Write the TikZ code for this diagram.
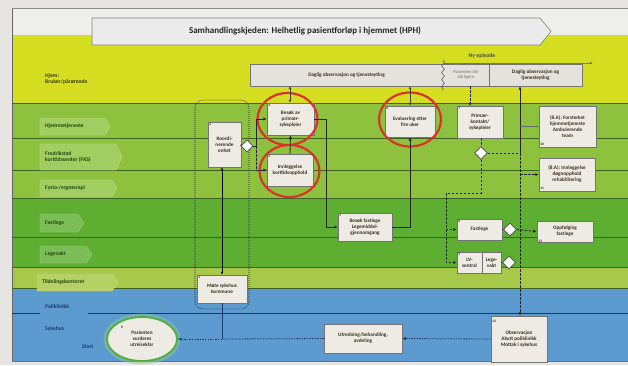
\documentclass[tikz,border=0pt]{standalone}
\usepackage{fontspec}
\setmainfont{Carlito}
\usetikzlibrary{arrows.meta,shapes.geometric,shadows,decorations.pathmorphing}
\definecolor{bgout}{HTML}{E6E5E1}
\definecolor{paneltop}{HTML}{EEEEEB}
\definecolor{lyellow}{HTML}{D6DE22}
\definecolor{lgreen}{HTML}{8EC23E}
\definecolor{dgreen}{HTML}{5EAE32}
\definecolor{tgreen}{HTML}{A8C84A}
\definecolor{lblue}{HTML}{5C9AD0}
\definecolor{boxfill}{HTML}{EEEBE5}
\definecolor{barfill}{HTML}{E4E2DC}
\definecolor{ringred}{HTML}{D8352A}
\definecolor{txtdark}{HTML}{3A2C1C}
\definecolor{laneline}{HTML}{3A6420}
\definecolor{navy}{HTML}{1D3766}
\definecolor{tagtext}{HTML}{22480E}
\definecolor{glowgreen}{HTML}{4FAE3C}
\begin{document}
\begin{tikzpicture}[x=1pt,y=-1pt,
  box/.style={draw=black!55, line width=0.5pt, fill=boxfill, align=center,
    font=\fontsize{5.2}{6}\selectfont\bfseries, text=txtdark, inner sep=1pt,
    drop shadow={shadow xshift=0.8pt,shadow yshift=-0.8pt,opacity=0.3}},
  num/.style={font=\fontsize{3.6}{4}\selectfont\bfseries, text=txtdark, inner sep=1.3pt},
  dia/.style={diamond, draw=black!70, fill=white, line width=0.6pt, minimum width=12pt, minimum height=12pt, inner sep=0pt},
  flow/.style={draw=black!85, line width=0.8pt, -{Latex[length=3.5pt,width=3.2pt]}},
  conn/.style={draw=black!85, line width=0.8pt},
  biflow/.style={draw=black!75, line width=0.6pt, {Latex[length=3pt,width=2.8pt]}-{Latex[length=3pt,width=2.8pt]}},
  dflow/.style={draw=black!85, line width=0.9pt, dash pattern=on 2.5pt off 1.5pt, -{Latex[length=3.5pt,width=3.2pt]}},
  dconn/.style={draw=black!85, line width=0.9pt, dash pattern=on 2.5pt off 1.5pt},
  thinflow/.style={draw=black!60, line width=0.4pt, -{Latex[length=2.5pt,width=2.2pt]}},
  navyline/.style={draw=navy, line width=0.8pt},
  navydot/.style={draw=navy, line width=0.8pt, dash pattern=on 1.4pt off 1.2pt},
  navydotflow/.style={navydot, -{Latex[length=3.5pt,width=3.2pt]}},
  tagshape/.style={line width=0.4pt},
  lanetxt/.style={font=\fontsize{5.6}{6.6}\selectfont\bfseries, text=tagtext, anchor=west, align=left, inner sep=0pt},
  ring/.style={draw=ringred, line width=2.2pt},
  bartxt/.style={font=\fontsize{5.2}{6}\selectfont\bfseries, text=txtdark, align=center, inner sep=0pt}
]
\useasboundingbox (0,0) rectangle (628,365);
% background and panel
\fill[bgout] (0,0) rectangle (628,365);
\fill[paneltop] (12,8) rectangle (628,35);
\fill[lyellow] (12,35) rectangle (628,103);
\fill[lgreen] (12,103) rectangle (628,198);
\fill[dgreen] (12,198) rectangle (628,267);
\fill[tgreen] (12,267) rectangle (628,288);
\fill[lblue] (12,288) rectangle (628,361);
\draw[black!60, line width=0.5pt] (12,8) -- (12,361);
\draw[black!45, line width=0.4pt] (12,8) -- (628,8);
% lane dividers
\foreach \yy in {103,138,170,198,237,267,288}{
  \draw[laneline, line width=0.5pt] (12,\yy) -- (628,\yy);
}
\draw[navy, line width=0.8pt] (12,313) -- (40,313);
\draw[navy, line width=0.8pt] (88,313) -- (628,313);
\draw[navy!70, line width=0.5pt] (12,361) -- (628,361);

% title banner
\draw[fill=white!92!black, draw=black!50, line width=0.6pt] (92,18) -- (540,18) -- (551,31.5) -- (540,45) -- (92,45) -- cycle;
\node[font=\fontsize{9}{10}\selectfont\bfseries, text=black!85] (title) at (305,31) {Samhandlingskjeden: Helhetlig pasientforløp i hjemmet (HPH)};

% lane tags
\fill[lgreen!82!white, draw=lgreen!60!white, tagshape] (40,118) -- (105,118) -- (110,126.5) -- (105,135) -- (40,135) -- cycle;
\fill[lgreen!82!white, draw=lgreen!60!white, tagshape] (40,144) -- (116,144) -- (122,157) -- (116,170) -- (40,170) -- cycle;
\fill[lgreen!82!white, draw=lgreen!60!white, tagshape] (40,180) -- (112,180) -- (117,188.5) -- (112,197) -- (40,197) -- cycle;
\fill[dgreen!82!white, draw=dgreen!60!white, tagshape] (40,214) -- (78,214) -- (84,223) -- (78,232) -- (40,232) -- cycle;
\fill[dgreen!82!white, draw=dgreen!60!white, tagshape] (40,246) -- (86,246) -- (92,254.5) -- (86,263) -- (40,263) -- cycle;
\fill[tgreen!85!white, draw=tgreen!60!white, tagshape] (37,274) -- (112,274) -- (118,282.5) -- (112,291) -- (37,291) -- cycle;

\node[lanetxt, text=black!75!lyellow] (lhjem) at (45,79) {Hjem:\\Bruker/pårørende};
\node[lanetxt] (lhjt) at (45,126.5) {Hjemmetjeneste};
\node[lanetxt] (lfks) at (45,157) {Fredrikstad\\korttidssenter (FKS)};
\node[lanetxt] (lfys) at (45,188.5) {Fysio-/ergoterapi};
\node[lanetxt] (lfast) at (45,223) {Fastlege};
\node[lanetxt] (llv) at (45,254.5) {Legevakt};
\node[lanetxt] (ltild) at (42,282.5) {Tildelingskontoret};
\node[lanetxt, text=navy] (lpol) at (45,306.5) {Poliklinikk};
\node[lanetxt, text=navy] (lsyk) at (45,329) {Sykehus};
\node[lanetxt, text=navy] (lstart) at (82,347) {Start};

% daily observation bar
\fill[barfill, draw=black!55, line width=0.5pt] (250,64) rectangle (582,86);
\node[bartxt, minimum width=193pt, minimum height=22pt] (barA) at (346.5,75) {Daglig observasjon og tjenesteyting};
\node[bartxt, text=black!55, minimum width=46pt, minimum height=22pt, font=\fontsize{4.6}{5.4}\selectfont] (barB) at (466,75) {Pasienten blir\\dårligere};
\node[bartxt, minimum width=93pt, minimum height=22pt] (barC) at (535.5,75) {Daglig observasjon og\\tjenesteyting};
\draw[black!55, line width=0.5pt] (489,64) -- (489,86);
\draw[black!65, line width=0.6pt, decorate, decoration={snake, amplitude=1.4pt, segment length=7pt}] (443,60) -- (443,90);
\coordinate (nystart) at (443,63);
\coordinate (nyend) at (593,63);
\draw[black!55, line width=0.5pt, -{Latex[length=3pt,width=2.6pt]}] (nystart) -- (nyend);
\node[font=\fontsize{5.8}{6.5}\selectfont\bfseries, text=black!70] (ny) at (482,55.5) {Ny episode};

% dotted enclosure
\draw[black!85, line width=0.6pt, dash pattern=on 0.9pt off 1.1pt, rounded corners=8pt] (195,309) -- (195,100) -- (249,100) -- (249,309) -- cycle;

% boxes
\node[box, minimum width=33pt, minimum height=45pt, label={[num, anchor=north west]north west:2}] (n2) at (224.5,144.5) {Koordi-\\nerende\\enhet};
\node[box, minimum width=47pt, minimum height=32pt, label={[num, anchor=north west]north west:3}] (n3) at (290.5,119) {Besøk av\\primær-\\sykepleier};
\node[box, minimum width=46pt, minimum height=32pt, label={[num, anchor=north west]north west:4}] (n4) at (290,170) {Innleggelse\\korttidsopphold};
\node[box, minimum width=54pt, minimum height=28pt, label={[num, anchor=north west]north west:5}] (n5) at (365,227) {Besøk fastlege\\Legemiddel-\\gjennomgang};
\node[box, minimum width=50pt, minimum height=31pt, label={[num, anchor=north west]north west:6}] (n6) at (410,121.5) {Evaluering etter\\fire uker};
\node[box, minimum width=46pt, minimum height=32pt, label={[num, anchor=north west]north west:7}] (n7) at (480,122) {Primær-\\kontakt/\\sykepleier};
\node[box, minimum width=45pt, minimum height=21pt, label={[num, anchor=north west]north west:8}] (n8) at (479.5,229.5) {Fastlege};
\node[box, minimum width=25pt, minimum height=21pt, label={[num, anchor=north west]north west:9}] (n9a) at (469.5,262.5) {LV-\\sentral};
\node[box, minimum width=19pt, minimum height=21pt] (n9b) at (491.5,262.5) {Lege-\\vakt};
\node[box, minimum width=57pt, minimum height=41pt, label={[num, anchor=south west]south west:10}] (n10) at (567.5,126.5) {(8.A): Forsterket\\hjemmetjeneste\\Ambulerende\\team};
\node[box, minimum width=56pt, minimum height=33pt, label={[num, anchor=south west]south west:11}] (n11) at (567,174.5) {(8.A): Innleggelse\\døgnopphold\\rehabilitering};
\node[box, minimum width=56pt, minimum height=21pt, label={[num, anchor=south west, yshift=-2pt]south west:12}] (n12) at (565,231.5) {Oppfølging\\fastlege};
\node[box, minimum width=56pt, minimum height=46pt, label={[num, anchor=north west, yshift=-3pt]north west:13}] (n13) at (519,339) {Observasjon\\Akutt poliklinikk\\Mottak i sykehus};
\node[box, minimum width=78pt, minimum height=29pt] (utred) at (363,338.5) {Utredning/behandling,\\avdeling};
\node[box, minimum width=50pt, minimum height=28pt, label={[num, anchor=north west]north west:1}] (n1) at (222,289) {Møte sykehus\\kommune};
% start ellipse with glow
\fill[glowgreen!60, opacity=0.45] (142,339) ellipse [x radius=38.5, y radius=25.5];
\node[ellipse, draw=glowgreen, line width=1.8pt, fill=boxfill, minimum width=70pt, minimum height=44pt, align=center, font=\fontsize{5.2}{6}\selectfont\bfseries, text=txtdark, inner sep=0pt, label={[num, xshift=-20pt, yshift=12pt]center:0}] (n0) at (142,339) {Pasienten\\vurderes\\utreiseklar};

% red rings
\draw[ring] (287.5,119) ellipse [x radius=30, y radius=26];
\draw[ring] (289.5,171) ellipse [x radius=30, y radius=26];
\draw[ring] (410,119.5) ellipse [x radius=31, y radius=27];

% diamonds
\node[dia] (d2) at (247,146) {};
\node[dia, minimum width=13pt, minimum height=13pt] (d7) at (481,153) {};
\node[dia, minimum width=13pt, minimum height=13pt] (d8) at (510,229.5) {};
\node[dia, minimum width=13pt, minimum height=13pt] (d9) at (509,262.5) {};

% connectors
\draw[biflow, line width=0.8pt, draw=black] (n1.north) -- (n1.north |- n2.south);
\draw[conn] (n2.east) -- (d2.west);
\coordinate (j1) at (256,146);
\draw[conn] (d2.east) -- (j1);
\draw[flow] (j1) |- (n3.west);
\draw[dflow] (j1) |- (n4.west);
\draw[flow] (n4.north) -- (n3.south);
\draw[biflow] (n3.north -| 290,0) -- (290,86);
\draw[biflow] (n6.north) -- (n6.north |- barA.south);
\draw[flow] (n3.east) -- ++(12,0) |- (n5.west);
\draw[flow] (n5.east) -| (n6.south);
\draw[dflow] (470,86) -- (470,106);
\draw[dconn] (n7.south -| d7.north) -- (d7.north);
\coordinate (j2) at (520,153);
\draw[dconn] (d7.east) -- (j2);
\draw[flow] (j2) -- (j2 |- barC.south);
\draw[dflow] (j2) -- (j2 |- n13.north);
\draw[thinflow] (j2 |- n10.west) -- (n10.west);
\draw[dflow] (j2 |- n11.west) -- (n11.west);
\coordinate (j3) at (446,193);
\draw[dconn] (d7.south) |- (j3);
\draw[dflow] (j3) |- (n8.west);
\draw[dflow] (j3) |- (n9a.west);
\draw[conn, line width=0.6pt] (n8.east) -- (d8.west);
\draw[dflow] (d8.east) -- (n12.west);
\draw[conn, line width=0.6pt] (n9b.east) -- (d9.west);
\draw[navydotflow] (n13.west) -- (utred.east);
\coordinate (j4) at (n1.south |- n0.east);
\draw[navydot] (utred.west) -- (j4);
\draw[navyline] (n1.south) -- (j4);
\draw[navydotflow] (j4) -- (n0.east);
\end{tikzpicture}
\end{document}
